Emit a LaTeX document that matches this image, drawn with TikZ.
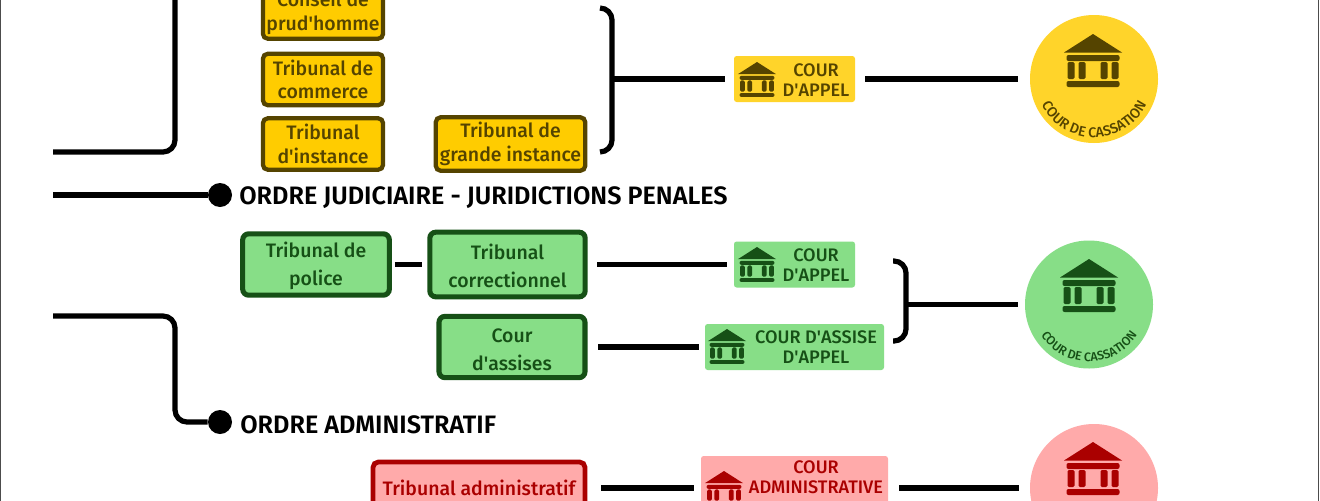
\documentclass[tikz,border=0pt]{standalone}
\usepackage{fontspec}
\setmainfont{Fira Sans Medium}
\newfontfamily\titlefont{Fira Sans SemiBold}
\usetikzlibrary{decorations.text}
\definecolor{yfill}{HTML}{FFCC00}
\definecolor{ycourt}{HTML}{FFD42A}
\definecolor{ydark}{HTML}{554400}
\definecolor{gfill}{HTML}{87DE87}
\definecolor{gdark}{HTML}{165016}
\definecolor{rfill}{HTML}{FFAAAA}
\definecolor{rdark}{HTML}{AA0000}
\newcommand{\ap}{\textquotesingle}
\newcommand{\gs}{\rule{0pt}{14pt}}
\tikzset{
  conn/.style={draw=black,line width=3.9pt,rounded corners=9pt},
  boxbase/.style={rectangle,rounded corners=3.5pt,align=center,inner sep=0pt,line width=3.2pt,font=\fontsize{14.6}{17.6}\selectfont},
  ybox/.style={boxbase,draw=ydark,fill=yfill,text=ydark},
  gbox/.style={boxbase,draw=gdark,fill=gfill,text=gdark,line width=3.8pt,rounded corners=4.5pt,font=\fontsize{14.6}{21}\selectfont},
  rbox/.style={boxbase,draw=rdark,fill=rfill,text=rdark,line width=3.6pt,rounded corners=4pt},
  courtbox/.style={rectangle,rounded corners=2pt,inner sep=0pt},
  courttext/.style={align=center,inner sep=0pt,font=\fontsize{13.6}{15}\selectfont},
  disc/.style={circle,inner sep=0pt,minimum size=96pt},
  dot/.style={circle,fill=black,inner sep=0pt,minimum size=18pt},
  title/.style={anchor=west,inner sep=0pt,font=\fontsize{18.9}{20}\titlefont,text=black}
}
\newcommand{\templeicon}[4]{%
  \begin{scope}[shift={(#1,#2)},scale=#3]
    \fill[#4] (0,0) -- (29,18.5) -- (-29,18.5) -- cycle;
    \fill[#4,rounded corners=1.5pt] (-26.5,21) rectangle (26.5,27);
    \fill[#4,rounded corners=1pt] (-25.5,28) rectangle (-18.5,45);
    \fill[#4,rounded corners=1pt] (-14.5,28) rectangle (-7.5,45);
    \fill[#4,rounded corners=1pt] (7.5,28) rectangle (14.5,45);
    \fill[#4,rounded corners=1pt] (18.5,28) rectangle (25.5,45);
    \fill[#4,rounded corners=1.5pt] (-26.5,47) rectangle (26.5,53);
  \end{scope}}
\newcommand{\cassation}[5]{% cx cy radius size colour
  \path[decorate,decoration={text along path,text align=center,
    text={|\fontsize{#4}{#4}\selectfont\color{#5}|COUR DE CASSATION}}]
    ({#1+#3*cos(200)},{#2-#3*sin(200)}) arc[start angle=160,end angle=20,radius=#3];}
\begin{document}
\begin{tikzpicture}[x=0.75pt,y=-0.75pt]
\useasboundingbox (0,0) rectangle (1320,500);
\clip (0,0) rectangle (1320,500);
\fill[white] (0,0) rectangle (1320,500);
\draw[line width=1pt,black!70] (0.5,-20) -- (0.5,520);
\draw[line width=1pt,black!70] (1318.7,-20) -- (1318.7,520);

% free ends of the connectors
\coordinate (s1) at (53,152);
\coordinate (s1up) at (175,-20);
\coordinate (s2) at (53,195);
\coordinate (s3) at (53,316);
\coordinate (s3a) at (175,316);
\coordinate (s3b) at (175,422);
\coordinate (b1t) at (600,8);
\coordinate (b1u) at (612,8);
\coordinate (b1d) at (612,152);
\coordinate (b1b) at (600,152);
\coordinate (b1m) at (612,79);
\coordinate (b2t) at (893,261);
\coordinate (b2u) at (906,261);
\coordinate (b2d) at (906,341);
\coordinate (b2b) at (893,341);
\coordinate (b2m) at (906,304.5);

% yellow boxes
\node[ybox,minimum width=90pt,minimum height=38.5pt] (cph) at (323,13) {Conseil de\\prud\ap homme};
\node[ybox,minimum width=90pt,minimum height=38.5pt] (tco) at (323,79.5) {Tribunal de\\commerce};
\node[ybox,minimum width=90pt,minimum height=38.5pt] (tin) at (323,144) {Tribunal\\d\ap instance};
\node[ybox,minimum width=112pt,minimum height=40pt] (tgi) at (510.5,144) {Tribunal de\\grande instance};

% green boxes
\node[gbox,minimum width=110pt,minimum height=46pt] (tpo) at (316,264.5) {\gs Tribunal de\\police};
\node[gbox,minimum width=116.5pt,minimum height=48.5pt] (tcr) at (507.5,264.5) {\gs Tribunal\\correctionnel};
\node[gbox,minimum width=109.5pt,minimum height=46pt] (cas) at (512,347) {\gs Cour\\d\ap assises};

% red box
\node[rbox,minimum width=159pt,minimum height=39pt] (tad) at (479,488) {Tribunal administratif};

% courts
\node[courtbox,fill=ycourt,minimum width=90.75pt,minimum height=34.5pt] (ca1) at (794.5,79) {};
\node[courtbox,fill=gfill,minimum width=90.75pt,minimum height=34.5pt] (ca2) at (794.5,264.5) {};
\node[courtbox,fill=gfill,minimum width=134.25pt,minimum height=34.5pt] (ca3) at (794.5,347) {};
\node[courtbox,fill=rfill,minimum width=140.25pt,minimum height=48pt] (ca4) at (794.5,488) {};

\node[courttext,text=ydark] (ca1t) at (816,80) {COUR\\D\ap APPEL};
\node[courttext,text=gdark] (ca2t) at (816,265) {COUR\\D\ap APPEL};
\node[courttext,text=gdark] (ca3t) at (816,347) {COUR D\ap ASSISE\\D\ap APPEL};
\node[courttext,text=rdark] (ca4t) at (816,477.5) {COUR\\ADMINISTRATIVE};

\templeicon{757}{62}{0.66}{ydark}
\templeicon{757}{247}{0.66}{gdark}
\templeicon{727}{329}{0.66}{gdark}
\templeicon{724}{471}{0.66}{rdark}

% cassation discs
\node[disc,fill=ycourt] (cc1) at (1094,79) {};
\node[disc,fill=gfill] (cc2) at (1089,304.5) {};
\node[disc,fill=rfill] (cc3) at (1094,488) {};
\templeicon{1093}{34}{1}{ydark}
\templeicon{1089}{259}{1}{gdark}
\templeicon{1093}{442}{1}{rdark}
\cassation{1094}{79}{58.5}{10.6}{ydark}
\cassation{1089}{304.5}{57}{9.3}{gdark}

% dots and titles
\node[dot] (d1) at (220,195) {};
\node[dot] (d2) at (220,422) {};
\node[title] (t1) at (239,198) {ORDRE JUDICIAIRE - JURIDICTIONS PENALES};
\node[title] (t2) at (240,425) {ORDRE ADMINISTRATIF};

% connectors
\draw[conn] (s1) -| (s1up);
\draw[conn] (s2) -- (d1);
\draw[conn] (s3) -- (s3a) -- (s3b) -- (d2);
\draw[conn] (b1t) -- (b1u) -- (b1d) -- (b1b);
\draw[conn] (b2t) -- (b2u) -- (b2d) -- (b2b);
\draw[conn,shorten >=6.75pt] (b1m) -- (ca1.west);
\draw[conn,shorten <=7.5pt,shorten >=9pt] (ca1.east) -- (cc1.west);
\draw[conn,shorten <=2.25pt,shorten >=4.3pt] (tpo.east) -- (tcr.west);
\draw[conn,shorten <=7pt,shorten >=5.25pt] (tcr.east) -- (ca2.west);
\draw[conn,shorten <=8pt,shorten >=4.5pt] (cas.east) -- (ca3.west);
\draw[conn,shorten >=5.25pt] (b2m) -- (cc2.west);
\draw[conn,shorten <=10.5pt,shorten >=5.25pt] (tad.east) -- (ca4.west);
\draw[conn,shorten <=8.25pt,shorten >=8.25pt] (ca4.east) -- (cc3.west);
\end{tikzpicture}
\end{document}
